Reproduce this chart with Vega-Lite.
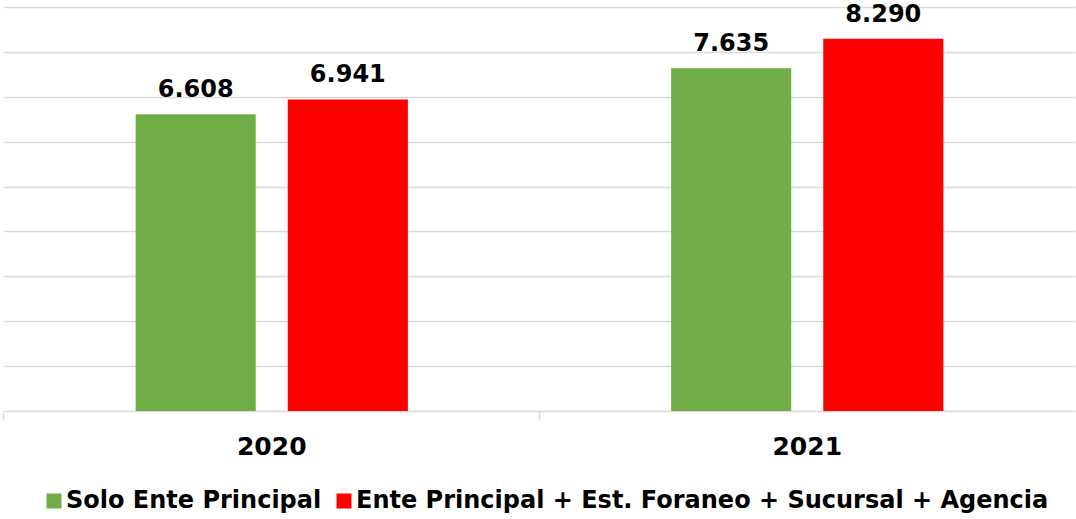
{
  "$schema": "https://vega.github.io/schema/vega-lite/v6.json",
  "width": 1071,
  "height": 404,
  "autosize": {"type": "none"},
  "padding": {"left": 4, "top": 7, "right": 1, "bottom": 108},
  "background": "white",
  "config": {
    "locale": {"number": {"decimal": ",", "thousands": ".", "grouping": [3], "currency": ["", ""]}},
    "view": {"stroke": null},
    "font": "DejaVu Sans"
  },
  "data": {
    "values": [
      {"year": "2020", "serie": "Solo Ente Principal", "value": 6608},
      {"year": "2020", "serie": "Ente Principal + Est. Foraneo + Sucursal + Agencia", "value": 6941},
      {"year": "2021", "serie": "Solo Ente Principal", "value": 7635},
      {"year": "2021", "serie": "Ente Principal + Est. Foraneo + Sucursal + Agencia", "value": 8290}
    ]
  },
  "encoding": {
    "x": {
      "field": "year", "type": "nominal",
      "scale": {"paddingInner": 0.4916, "paddingOuter": 0.2458},
      "axis": {
        "title": null, "labelAngle": 0, "labelFont": "DejaVu Sans", "labelFontWeight": "bold",
        "labelFontSize": 25, "labelColor": "#000000", "labelPadding": 14,
        "domainColor": "#D9D9D9", "domainWidth": 1.5, "tickColor": "#D9D9D9", "tickWidth": 1.5,
        "tickSize": 9, "bandPosition": -0.4835, "grid": false
      }
    },
    "xOffset": {
      "field": "serie", "type": "nominal",
      "sort": ["Solo Ente Principal", "Ente Principal + Est. Foraneo + Sucursal + Agencia"],
      "scale": {"paddingInner": 0.2105, "paddingOuter": 0}
    },
    "y": {
      "field": "value", "type": "quantitative",
      "scale": {"domain": [0, 9000], "nice": false},
      "axis": {
        "title": null, "labels": false, "ticks": false, "domain": false,
        "grid": true, "gridColor": "#D9D9D9", "gridWidth": 1.5,
        "values": [1000, 2000, 3000, 4000, 5000, 6000, 7000, 8000, 9000]
      }
    }
  },
  "layer": [
    {
      "mark": {"type": "bar"},
      "encoding": {
        "color": {
          "field": "serie", "type": "nominal",
          "scale": {
            "domain": ["Solo Ente Principal", "Ente Principal + Est. Foraneo + Sucursal + Agencia"],
            "range": ["#70AD47", "#FF0000"]
          },
          "legend": {
            "title": null, "orient": "none", "legendX": 38, "legendY": 482, "direction": "horizontal",
            "symbolType": "square", "symbolSize": 225, "symbolStrokeWidth": 0, "symbolOpacity": 1,
            "labelFont": "DejaVu Sans", "labelFontWeight": "bold", "labelFontSize": 24,
            "labelColor": "#000000", "labelLimit": 900, "columnPadding": 10, "labelOffset": 0
          }
        }
      }
    },
    {
      "mark": {"type": "text", "font": "DejaVu Sans", "fontWeight": "bold", "fontSize": 24, "dy": -17, "baseline": "alphabetic", "color": "#000000"},
      "encoding": {
        "text": {"field": "value", "type": "quantitative", "format": ","}
      }
    }
  ]
}
